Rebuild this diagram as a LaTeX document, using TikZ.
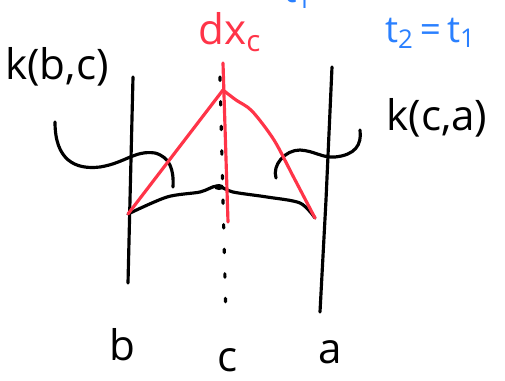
\documentclass[tikz,border=0pt]{standalone}
\usepackage{fontspec}
\setmainfont{Open Sans}
\usetikzlibrary{positioning}
\definecolor{inkred}{HTML}{FF3448}
\definecolor{inkblue}{HTML}{2A80FF}
\tikzset{inkline/.style={line width=1.8pt,line cap=round,line join=round},redline/.style={inkline,draw=inkred},dotline/.style={inkline,dash pattern=on 2pt off 12pt},handlabel/.style={font=\fontsize{24}{24}\selectfont,inner sep=1pt},redlabel/.style={handlabel,text=inkred},bluelabel/.style={handlabel,text=inkblue,font=\fontsize{21}{21}\selectfont}}

\begin{document}
\begin{tikzpicture}[x=0.02cm,y=-0.02cm]
\clip (0,0) rectangle (505,380);
% corner points
\coordinate (apex) at (223,90);
\coordinate (bleft) at (128,214);
\coordinate (bright) at (315,218);
% the three lines b, c, a
\draw[inkline] (133,77) -- (130,200) -- (128,283);
\draw[inkline] (332,67) -- (326,200) -- (320,312);
\draw[dotline] (220,77) -- (223,200) -- (226,320);
% base curve
\draw[inkline] plot[smooth] coordinates {(bleft) (167,197) (200,192) (217,186) (233,192) (267,197) (300,203) (bright)};
\fill (219,187) ellipse (5 and 3);
% braces
\draw[inkline] (55,122) .. controls (55,160) and (75,170) .. (100,167) .. controls (125,163) and (135,150) .. (155,153) .. controls (170,157) and (174,170) .. (173,187);
\draw[inkline] (276,178) .. controls (272,165) and (285,150) .. (300,150) .. controls (315,151) and (322,158) .. (335,157) .. controls (355,155) and (362,145) .. (360,130);
% red triangle and the dx_c line
\draw[redline] (bleft) -- (apex);
\draw[redline] plot[smooth,tension=0.5] coordinates {(apex) (236,100) (252,111) (274,140) (293,176) (bright)};
\draw[redline] (223,63) -- (228,222);
% labels
\node[handlabel] (kbc) at (57,67) {k(b,c)};
\node[handlabel] (kca) at (437,118) {k(c,a)};
\node[redlabel] (dxc) at (230,32) {dx\textsubscript{c}};
\node[bluelabel,anchor=west] (teq) at (383,33) {t\textsubscript{2}\,=\,t\textsubscript{1}};
\node[bluelabel] (tone) at (298,-7) {t\textsubscript{1}};
\node[handlabel] (lb) at (122,345) {b};
\node[handlabel] (lc) at (228,360) {c};
\node[handlabel] (la) at (330,352) {a};
\end{tikzpicture}
\end{document}
